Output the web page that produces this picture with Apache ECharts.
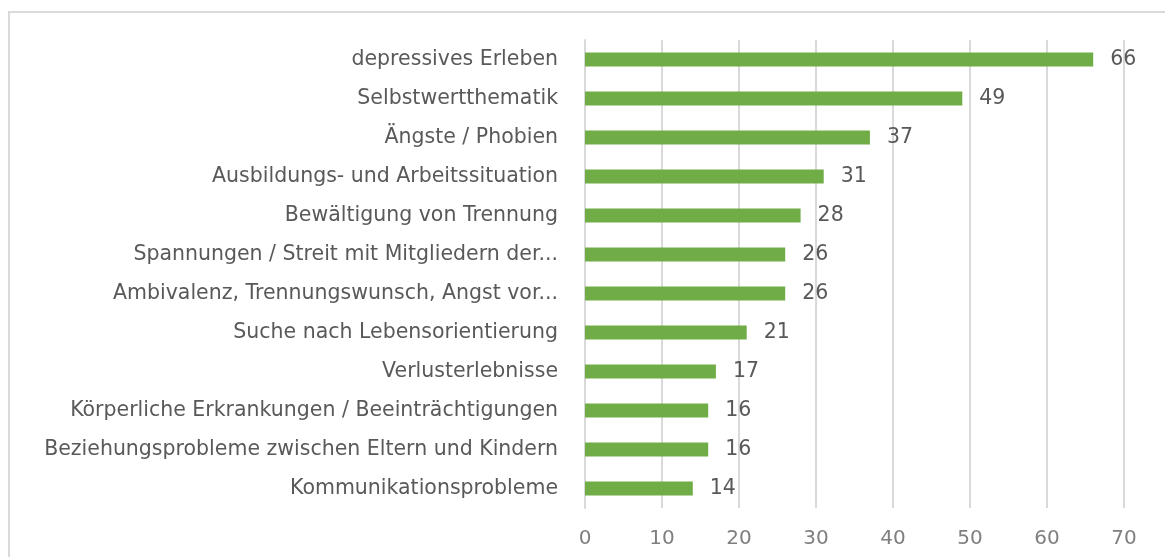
<!DOCTYPE html>
<html>
<head>
<meta charset="utf-8">
<script src="https://cdn.jsdelivr.net/npm/echarts@6/dist/echarts.min.js"></script>
<style>
  html, body { margin: 0; padding: 0; background: #fff; }
  #chart { width: 1165px; height: 557px; }
</style>
</head>
<body>
<div id="chart"></div>
<script>
// categories from top to bottom
var categories = [
  "depressives Erleben",
  "Selbstwertthematik",
  "Ängste / Phobien",
  "Ausbildungs- und Arbeitssituation",
  "Bewältigung von Trennung",
  "Spannungen / Streit mit Mitgliedern der...",
  "Ambivalenz, Trennungswunsch, Angst vor...",
  "Suche nach Lebensorientierung",
  "Verlusterlebnisse",
  "Körperliche Erkrankungen / Beeinträchtigungen",
  "Beziehungsprobleme zwischen Eltern und Kindern",
  "Kommunikationsprobleme"
];
var values = [66, 49, 37, 31, 28, 26, 26, 21, 17, 16, 16, 14];

var chart = echarts.init(document.getElementById("chart"));
chart.setOption({
  animation: false,
  textStyle: { fontFamily: "DejaVu Sans" },
  graphic: [
    {
      type: "rect",
      shape: { x: 9, y: 12, width: 1300, height: 700 },
      style: { fill: "none", stroke: "#d9d9d9", lineWidth: 2 },
      silent: true
    }
  ],
  grid: {
    left: 585,
    right: 41,
    top: 40,
    bottom: 49,
    containLabel: false
  },
  xAxis: {
    type: "value",
    min: 0,
    max: 70,
    interval: 10,
    axisLine: { show: false },
    axisTick: { show: false },
    axisLabel: { color: "#7f7f7f", fontSize: 20, margin: 21 },
    splitLine: { lineStyle: { color: "#d9d9d9", width: 2 } }
  },
  yAxis: {
    type: "category",
    inverse: true,
    data: categories,
    axisLine: { show: true, lineStyle: { color: "#d9d9d9", width: 2 } },
    axisTick: { show: false },
    axisLabel: { color: "#595959", fontSize: 20.5, margin: 27 }
  },
  series: [
    {
      type: "bar",
      data: values,
      barWidth: 14,
      itemStyle: { color: "#70ad47" },
      label: {
        show: true,
        position: "right",
        distance: 17,
        color: "#595959",
        fontSize: 20.5
      }
    }
  ]
});
</script>
</body>
</html>
